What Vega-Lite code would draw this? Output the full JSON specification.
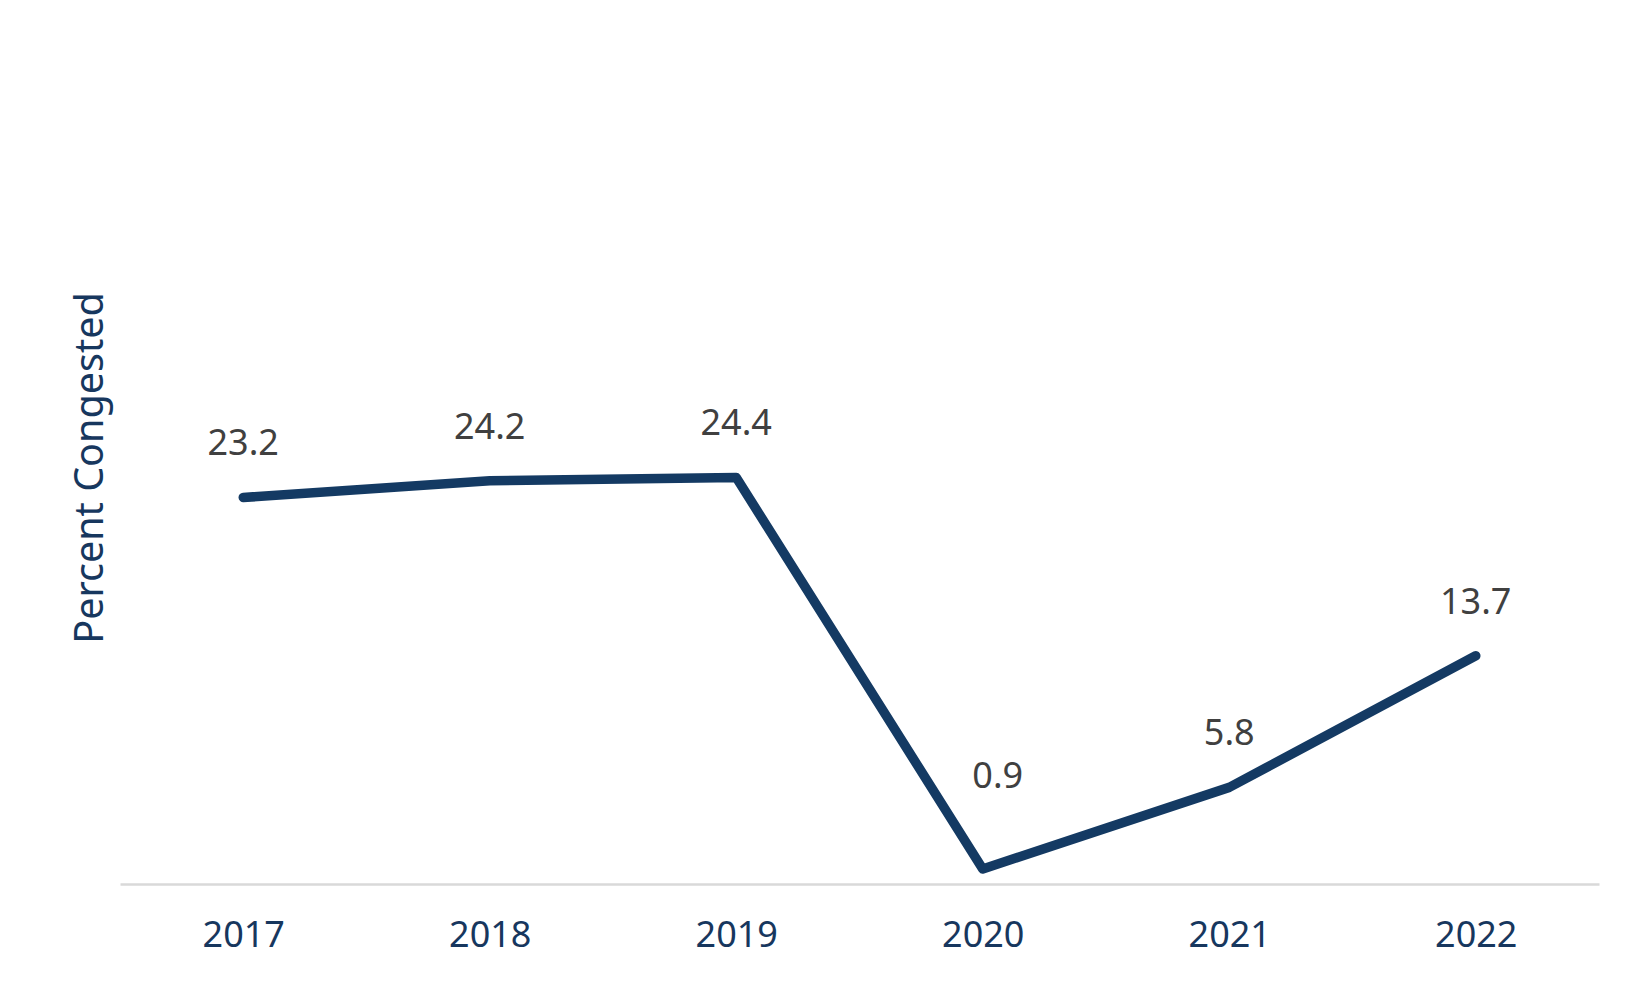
{
  "$schema": "https://vega.github.io/schema/vega-lite/v6.json",
  "autosize": {"type": "none"},
  "padding": {"left": 120, "top": 51, "right": 51, "bottom": 106},
  "width": 1479,
  "height": 833,
  "background": "white",
  "config": {"view": {"stroke": null}, "font": "Noto Sans"},
  "data": {"values": [
    {"year": "2017", "pct": 23.2},
    {"year": "2018", "pct": 24.2},
    {"year": "2019", "pct": 24.4},
    {"year": "2020", "pct": 0.9},
    {"year": "2021", "pct": 5.8},
    {"year": "2022", "pct": 13.7}
  ]},
  "encoding": {
    "x": {"field": "year", "type": "ordinal", "scale": {"type": "point", "padding": 0.5},
      "axis": {"title": null, "labelAngle": 0, "ticks": false, "domainColor": "#D9D9D9", "domainWidth": 2.5,
        "labelFontSize": 36, "labelColor": "#17375E", "labelPadding": 34, "labelFont": "Noto Sans"}},
    "y": {"field": "pct", "type": "quantitative", "scale": {"domain": [0, 50]},
      "axis": {"title": "Percent Congested", "labels": false, "ticks": false, "domain": false, "grid": false,
        "titleFontSize": 39.5, "titleFontWeight": "normal", "titleColor": "#17375E", "titlePadding": 10, "titleFont": "Noto Sans"}}
  },
  "layer": [
    {"mark": {"type": "line", "color": "#143A63", "strokeWidth": 9.5, "strokeCap": "round", "strokeJoin": "round"}},
    {"transform": [{"filter": "datum.year != '2020'"}],
     "mark": {"type": "text", "fontSize": 36, "color": "#404040", "baseline": "alphabetic", "dy": -42},
     "encoding": {"text": {"field": "pct", "type": "quantitative", "format": ".1f"}}},
    {"transform": [{"filter": "datum.year == '2020'"}],
     "mark": {"type": "text", "fontSize": 36, "color": "#404040", "baseline": "alphabetic", "dy": -81, "dx": 15},
     "encoding": {"text": {"field": "pct", "type": "quantitative", "format": ".1f"}}}
  ]
}
